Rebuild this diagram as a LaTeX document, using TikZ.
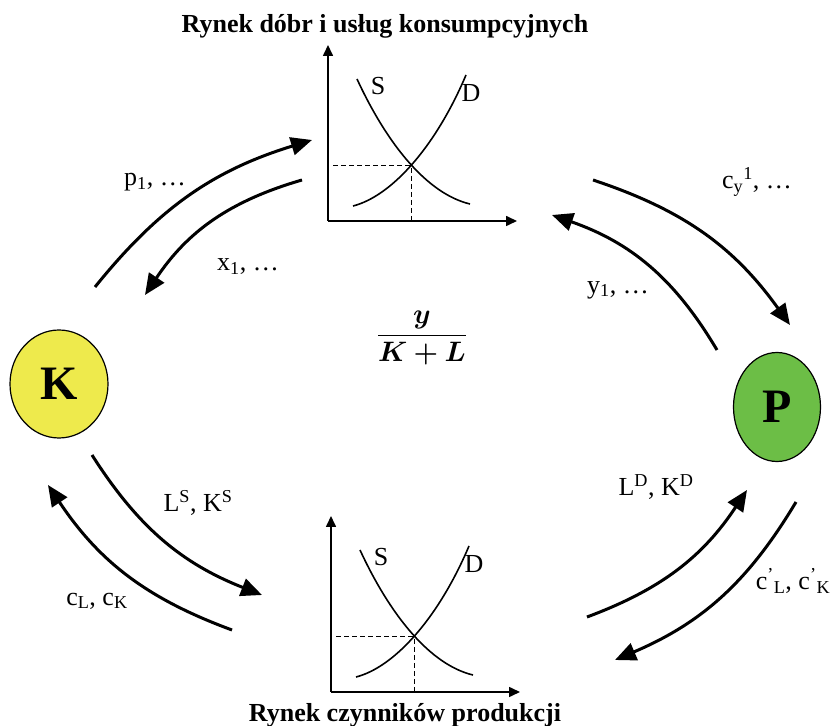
\documentclass[tikz,border=0pt]{standalone}
\usepackage{fontspec}
\setmainfont{Liberation Serif}
\usepackage{amsmath}
\usepackage{bm}
\usetikzlibrary{arrows.meta,shapes.geometric}
\definecolor{kyellow}{RGB}{238,234,76}
\definecolor{pgreen}{RGB}{108,190,70}
\newcommand\lsub[1]{\textsubscript{#1}}
\newcommand\lsup[1]{\textsuperscript{#1}}
\tikzset{
  flow/.style={line width=3pt,-{Triangle[length=21pt,width=18pt]}},
  axisline/.style={line width=1.6pt,-{Triangle[length=11pt,width=10pt]}},
  sdcurve/.style={line width=1.6pt},
  guide/.style={line width=1pt,dash pattern=on 5pt off 3pt},
  lbl/.style={font=\fontsize{26}{30}\selectfont, inner sep=0pt},
  ttl/.style={font=\fontsize{26}{30}\selectfont\bfseries, inner sep=0pt},
  fracstyle/.style={font=\fontsize{24.88}{30}\selectfont, inner sep=0pt},
  agent/.style={ellipse, draw, line width=1.2pt, inner sep=0pt,
    font=\fontsize{48}{52}\selectfont\bfseries},
  market/.pic={
    \draw[axisline] (0,0) -- (0,176);
    \draw[axisline] (0,0) -- (189,0);
    \draw[guide] (5,55) -- (83,55) -- (83,0);
    \draw[sdcurve] (29,142) .. controls (60,75) and (100,27) .. (142,17);
    \draw[sdcurve] (25,15) .. controls (64,25) and (108,75) .. (138,146);
    \node[lbl] (-S) at (50,135) {S};
    \node[lbl] (-D) at (143,128) {D};
  }
}
\begin{document}
\begin{tikzpicture}[x=1pt,y=1pt]
\useasboundingbox (0,0) rectangle (836,726);
% titles
\node[ttl, anchor=base] (title1) at (385,693) {Rynek dóbr i usług konsumpcyjnych};
\node[ttl, anchor=base] (title2) at (405,4) {Rynek czynników produkcji};
% markets
\pic (top) at (328,505) {market};
\pic (bot) at (331,34) {market};
% agents
\node[agent, fill=kyellow, minimum width=98pt, minimum height=108pt] (K) at (59,342) {K};
\node[agent, fill=pgreen, minimum width=87pt, minimum height=109pt] (P) at (777,319) {P};
% ratio
\node[fracstyle] (ratio) at (422,388) {\scalebox{1.13}{$\displaystyle\frac{\bm{y}}{\bm{K}\bm{+}\bm{L}}$}};
% flow endpoints
\coordinate (a1s) at (95,439);  \coordinate (a1e) at (312,586);
\coordinate (a2s) at (302,546); \coordinate (a2e) at (145,431);
\coordinate (a3s) at (593,546); \coordinate (a3e) at (790,401);
\coordinate (a4s) at (717,376); \coordinate (a4e) at (552,511);
\coordinate (a5s) at (587,109); \coordinate (a5e) at (747,236);
\coordinate (a6s) at (796,224); \coordinate (a6e) at (615,66);
\coordinate (a7s) at (92,271);  \coordinate (a7e) at (262,131);
\coordinate (a8s) at (232,96);  \coordinate (a8e) at (48,241);
\draw[flow] (a1s) to[bend left=17] (a1e);
\draw[flow] (a2s) to[bend right=20] (a2e);
\draw[flow] (a3s) to[bend left=18] (a3e);
\draw[flow] (a4s) to[bend right=20] (a4e);
\draw[flow] (a5s) to[bend right=18] (a5e);
\draw[flow] (a6s) to[bend left=18] (a6e);
\draw[flow] (a7s) to[bend right=18] (a7e);
\draw[flow] (a8s) to[bend left=18] (a8e);
% labels
\node[lbl] (lp) at (155,544) {p\lsub{1}, \ldots};
\node[lbl] (lx) at (248,459) {x\lsub{1}, \ldots};
\node[lbl] (lcy) at (757,544) {c\lsub{y}\lsup{1}, \ldots};
\node[lbl] (ly) at (618,436) {y\lsub{1}, \ldots};
\node[lbl] (lLD) at (656,239) {L\lsup{D}, K\lsup{D}};
\node[lbl] (lcp) at (793,145) {c\lsup{'}\lsub{L}, c\lsup{'}\lsub{K}};
\node[lbl] (lLS) at (198,223) {L\lsup{S}, K\lsup{S}};
\node[lbl] (lc) at (97,125) {c\lsub{L}, c\lsub{K}};
\end{tikzpicture}
\end{document}
